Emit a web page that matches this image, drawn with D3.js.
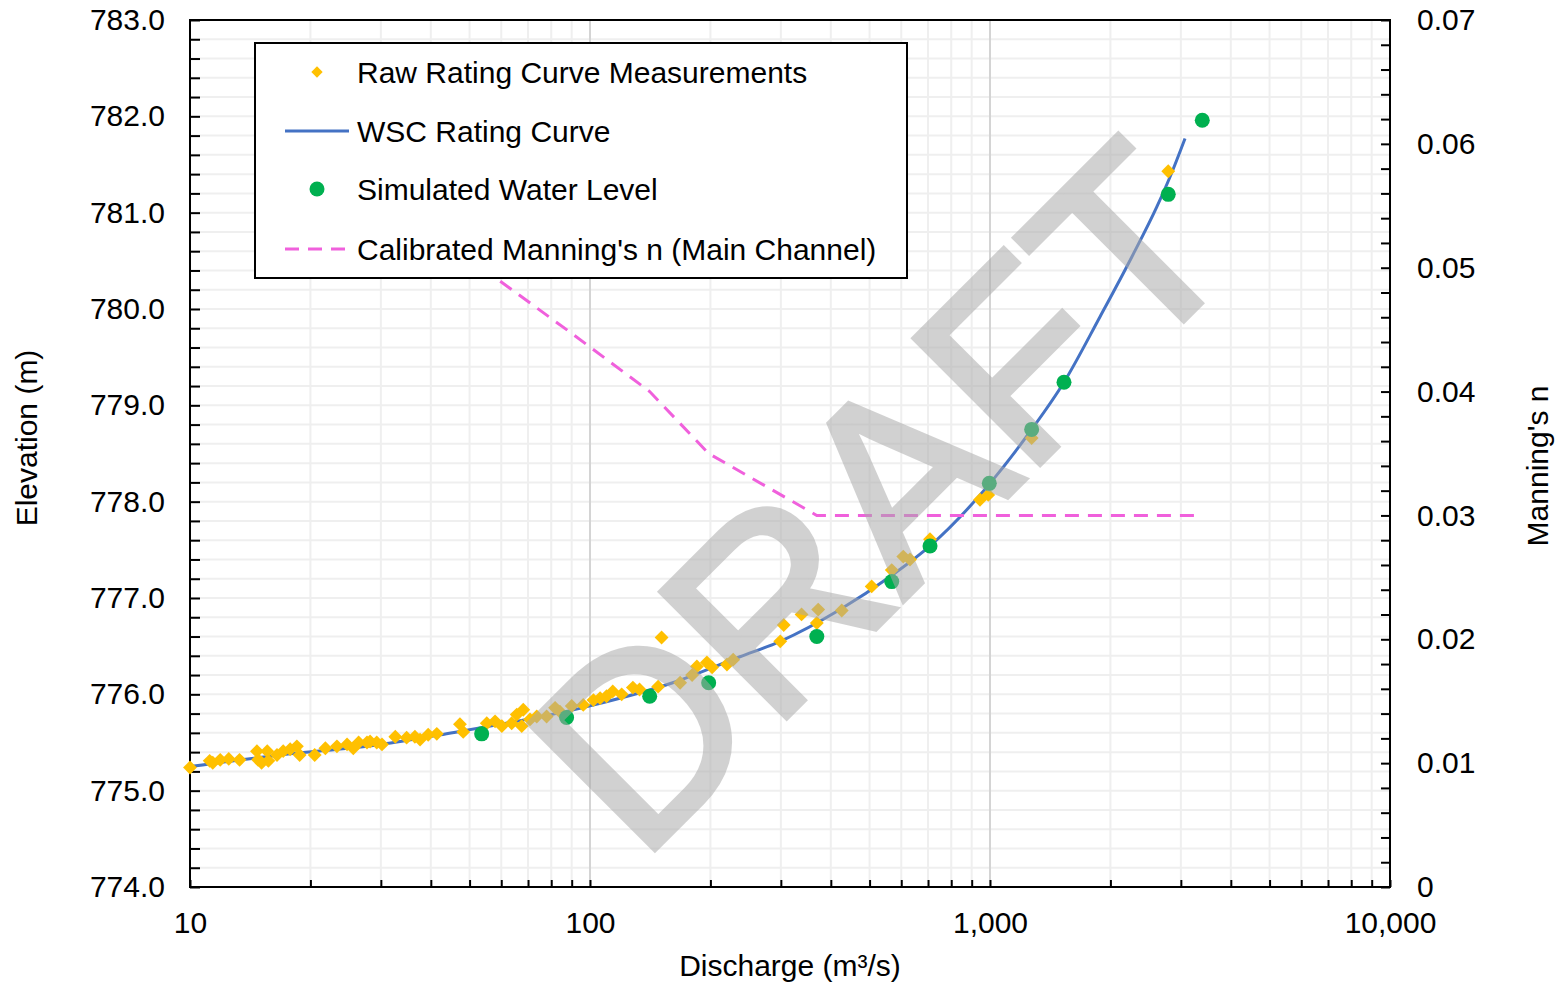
<!DOCTYPE html>
<html>
<head>
<meta charset="utf-8">
<script src="https://cdn.jsdelivr.net/npm/d3@7"></script>
<style>
  body { margin: 0; background: #fff; }
  text { font-family: Arial, "Liberation Sans", sans-serif; }
</style>
</head>
<body>
<svg id="viz" width="1560" height="985"></svg>
<script>
// raw rating curve measurements [discharge, elevation]
var rawMeasurements = [
    [10.0,775.24],[11.2,775.31],[11.4,775.29],[11.9,775.32],[12.5,775.33],[13.3,775.32],
    [14.7,775.41],[14.8,775.32],[15.1,775.29],[15.6,775.41],[15.7,775.31],[16.5,775.37],
    [17.1,775.41],[17.8,775.43],[18.5,775.46],[18.8,775.37],[20.5,775.37],[21.8,775.44],
    [23.3,775.46],[24.7,775.48],[25.6,775.44],[26.4,775.50],[27.7,775.50],[28.2,775.51],
    [29.3,775.50],[30.2,775.48],[32.6,775.56],[34.8,775.55],[36.5,775.56],[37.6,775.53],
    [39.4,775.58],[41.4,775.59],[47.3,775.69],[48.2,775.61],[55.2,775.70],[57.9,775.72],
    [60.2,775.67],[63.7,775.70],[65.6,775.79],[68.1,775.84],[67.5,775.67],[70.8,775.74],
    [73.6,775.77],[77.9,775.77],[81.8,775.86],[84.1,775.82],[90.0,775.88],[96.2,775.89],
    [102,775.94],[106,775.96],[110,775.98],[114,776.03],[120,776.00],[128,776.07],
    [133,776.05],[148,776.08],[151,776.59],[168,776.12],[180,776.20],[185,776.29],
    [196,776.33],[202,776.28],[220,776.31],[228,776.36],[299,776.55],[305,776.72],
    [338,776.83],[372,776.88],[369,776.74],[426,776.87],[506,777.12],[568,777.29],
    [607,777.43],[631,777.40],[708,777.61],[944,778.02],[990,778.07],[1271,778.66],
    [2790,781.43]
];

// WSC rating curve [discharge, elevation]
var wscCurve = [
    [10,775.25],[16.8,775.37],[29.9,775.48],[42.2,775.58],[100,775.88],[161,776.12],
    [237,776.39],[299,776.55],[422,776.88],[562,777.22],[708,777.54],[1000,778.19],
    [1271,778.75],[1531,779.24],[1884,779.92],[2262,780.54],[2612,781.06],[2818,781.37],
    [3073,781.77]
];

// simulated water level
var simQ = [53.6, 87.4, 141, 198, 369, 568, 708, 996, 1271, 1531, 2790, 3394];
var simE = [775.59, 775.76, 775.98, 776.12, 776.60, 777.17, 777.54, 778.19, 778.75, 779.24, 781.19, 781.96];

// calibrated manning's n (main channel), same flows as the simulations
var manningN = [0.050, 0.045, 0.040, 0.035, 0.030, 0.030, 0.030, 0.030, 0.030, 0.030, 0.030, 0.030];

var xMajor = [10, 100, 1000, 10000];
var legendLabels = ["Raw Rating Curve Measurements", "WSC Rating Curve",
    "Simulated Water Level", "Calibrated Manning's n (Main Channel)"];

var colors = { raw: "#ffc000", wsc: "#4472c4", sim: "#00b050", n: "#f060dc" };

var L = 190, R = 1390, T = 20, B = 887;
var svg = d3.select("#viz");

var x = d3.scaleLog().domain([10, 10000]).range([L, R]);
var y = d3.scaleLinear().domain([774, 783]).range([B, T]);
var y2 = d3.scaleLinear().domain([0, 0.07]).range([B, T]);

var xTicks = [];
[10, 100, 1000].forEach(function(dec){
    for(var k = 1; k < 10; k++){ xTicks.push(dec * k); }
});
xTicks.push(10000);
var xMinor = xTicks.filter(function(d){ return xMajor.indexOf(d) < 0; });

var yTicks = d3.range(0, 46).map(function(i){ return 774 + i * 0.2; });
var y2Ticks = d3.range(0, 36).map(function(i){ return i * 0.002; });

// grid
var grid = svg.append("g");
grid.selectAll(".hg").data(yTicks.slice(1, -1)).enter().append("line")
    .attr("x1", L).attr("x2", R)
    .attr("y1", function(d){ return y(d); }).attr("y2", function(d){ return y(d); })
    .attr("stroke", "#efefef").attr("stroke-width", 2);
grid.selectAll(".vg").data(xMinor).enter().append("line")
    .attr("y1", T).attr("y2", B)
    .attr("x1", function(d){ return x(d); }).attr("x2", function(d){ return x(d); })
    .attr("stroke", "#efefef").attr("stroke-width", 2);
grid.selectAll(".vm").data([100, 1000]).enter().append("line")
    .attr("y1", T).attr("y2", B)
    .attr("x1", function(d){ return x(d); }).attr("x2", function(d){ return x(d); })
    .attr("stroke", "#d4d4d4").attr("stroke-width", 2);

// axes
var isInt = function(d){ return Math.abs(d - Math.round(d)) < 1e-6; };
var fontSize = "30px";

var gx = svg.append("g").attr("transform", "translate(0," + B + ")")
    .call(d3.axisBottom(x).tickValues(xTicks).tickSize(-7).tickPadding(25)
        .tickFormat(function(d){ return xMajor.indexOf(d) >= 0 ? d3.format(",")(d) : ""; }));
var gy = svg.append("g").attr("transform", "translate(" + L + ",0)")
    .call(d3.axisLeft(y).tickValues(yTicks).tickSize(-10).tickPadding(25)
        .tickFormat(function(d){ return isInt(d) ? d.toFixed(1) : ""; }));
var gy2 = svg.append("g").attr("transform", "translate(" + R + ",0)")
    .call(d3.axisRight(y2).tickValues(y2Ticks).tickSize(-9).tickPadding(27)
        .tickFormat(function(d){
            var v = d * 100;
            if(!isInt(v)) return "";
            return v === 0 ? "0" : d.toFixed(2);
        }));
[gx, gy, gy2].forEach(function(g){
    g.select(".domain").remove();
    g.selectAll(".tick line").attr("stroke", "#000").attr("stroke-width", 2);
    g.selectAll(".tick text").attr("fill", "#000").style("font-size", fontSize)
        .style("font-family", "Arial, 'Liberation Sans', sans-serif");
});

svg.append("rect").attr("x", L).attr("y", T).attr("width", R - L).attr("height", B - T)
    .attr("fill", "none").attr("stroke", "#000").attr("stroke-width", 2);

// axis titles
svg.append("text").attr("transform", "translate(37,438) rotate(-90)")
    .attr("text-anchor", "middle").style("font-size", fontSize).attr("fill", "#000")
    .text("Elevation (m)");
svg.append("text").attr("transform", "translate(1548,466) rotate(-90)")
    .attr("text-anchor", "middle").style("font-size", fontSize).attr("fill", "#000")
    .text("Manning's n");
svg.append("text").attr("x", 790).attr("y", 976)
    .attr("text-anchor", "middle").style("font-size", fontSize).attr("fill", "#000")
    .text("Discharge (m³/s)");

// series
var plot = svg.append("g");

var curveLine = d3.line()
    .x(function(d){ return x(d[0]); })
    .y(function(d){ return y(d[1]); })
    .curve(d3.curveMonotoneX);
plot.append("path").datum(wscCurve).attr("d", curveLine)
    .attr("fill", "none").attr("stroke", colors.wsc).attr("stroke-width", 3);

var diamond = d3.symbol().type(d3.symbolSquare).size(96);
plot.selectAll(".raw").data(rawMeasurements).enter().append("path")
    .attr("class", "raw")
    .attr("d", diamond)
    .attr("transform", function(d){ return "translate(" + x(d[0]) + "," + y(d[1]) + ") rotate(45)"; })
    .attr("fill", colors.raw);

plot.selectAll(".sim").data(simQ).enter().append("circle")
    .attr("cx", function(d){ return x(d); })
    .attr("cy", function(d, i){ return y(simE[i]); })
    .attr("r", 7.5).attr("fill", colors.sim);

var nLine = d3.line()
    .x(function(d){ return x(d); })
    .y(function(d, i){ return y2(manningN[i]); });
plot.append("path").datum(simQ).attr("d", nLine)
    .attr("fill", "none").attr("stroke", colors.n).attr("stroke-width", 3)
    .attr("stroke-dasharray", "14,9");

// legend
var lg = svg.append("g");
lg.append("rect").attr("x", 255).attr("y", 43).attr("width", 652).attr("height", 235)
    .attr("fill", "#fff").attr("stroke", "#000").attr("stroke-width", 2);
var rowY = [72, 131, 189, 249];
lg.selectAll(".lt").data(legendLabels).enter().append("text")
    .attr("x", 357).attr("y", function(d, i){ return rowY[i]; }).attr("dy", "0.35em")
    .style("font-size", fontSize).attr("fill", "#000")
    .text(function(d){ return d; });
lg.append("path").attr("d", d3.symbol().type(d3.symbolSquare).size(64))
    .attr("transform", "translate(317," + rowY[0] + ") rotate(45)").attr("fill", colors.raw);
lg.append("line").attr("x1", 285).attr("x2", 349).attr("y1", rowY[1]).attr("y2", rowY[1])
    .attr("stroke", colors.wsc).attr("stroke-width", 3);
lg.append("circle").attr("cx", 317).attr("cy", rowY[2]).attr("r", 7.5).attr("fill", colors.sim);
lg.append("line").attr("x1", 285).attr("x2", 349).attr("y1", rowY[3]).attr("y2", rowY[3])
    .attr("stroke", colors.n).attr("stroke-width", 3).attr("stroke-dasharray", "14,9");

// watermark
svg.append("text").attr("transform", "translate(944,560) rotate(-45)")
    .attr("text-anchor", "middle")
    .style("font-size", "258px").attr("fill", "#aaaaaa")
    .attr("stroke", "#aaaaaa").attr("stroke-width", 6).attr("stroke-linejoin", "miter")
    .attr("opacity", 0.53)
    .text("DRAFT");
</script>
</body>
</html>
